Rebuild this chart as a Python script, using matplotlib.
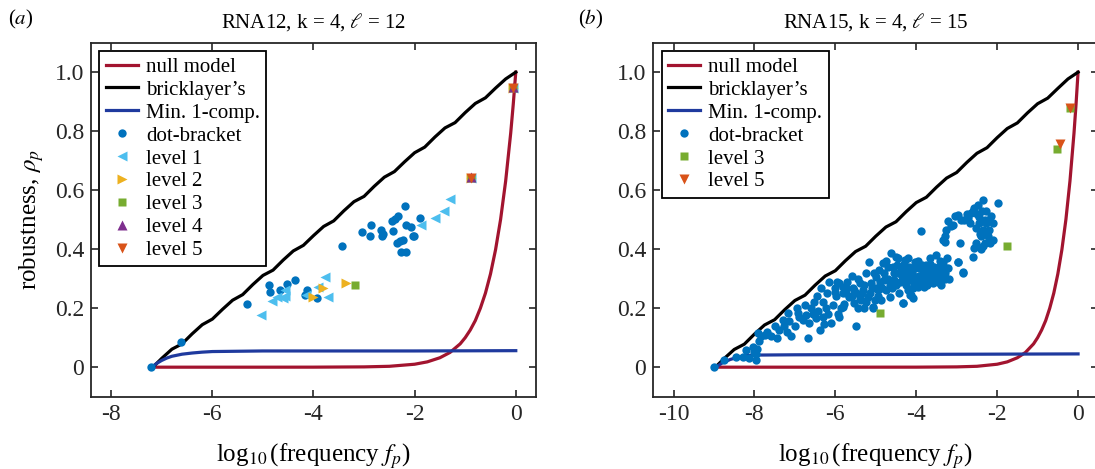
import matplotlib
matplotlib.use("Agg")
import matplotlib.pyplot as plt

plt.rcParams['font.family'] = ['Liberation Serif', 'DejaVu Serif']
plt.rcParams['mathtext.fontset'] = 'stix'

# colours (MATLAB style)
RED = '#A2142F'
BLK = '#000000'
DBLUE = '#1F3A9E'
C_DOT = '#0072BD'
C_L1 = '#4DBEEE'
C_L2 = '#EDB120'
C_L3 = '#77AC30'
C_L4 = '#7E2F8E'
C_L5 = '#D95319'
AXC = '#262626'

# ---------------- panel (a): RNA12 ----------------
a_null_x = [-7.2, -6.0, -5.0, -4.0, -3.0, -2.5, -2.0, -1.75, -1.5, -1.3, -1.1, -1.0,
            -0.9, -0.8, -0.7, -0.6, -0.5, -0.4, -0.3, -0.2, -0.1, -0.05, 0.0]
a_null_y = [0.0, 0.0, 0.0, 0.0001, 0.001, 0.003, 0.010, 0.018, 0.032, 0.050, 0.079, 0.100,
            0.126, 0.158, 0.200, 0.251, 0.316, 0.398, 0.501, 0.631, 0.794, 0.891, 1.0]

a_brick_x = [-7.2, -7.0, -6.8, -6.6, -6.4, -6.2, -6.0, -5.8, -5.6, -5.4, -5.2, -5.0, -4.8,
             -4.6, -4.4, -4.2, -4.0, -3.8, -3.6, -3.4, -3.2, -3.0, -2.8, -2.6, -2.4, -2.2,
             -2.0, -1.8, -1.6, -1.4, -1.2, -1.0, -0.8, -0.6, -0.4, -0.2, 0.0]
a_brick_y = [-0.004, 0.030, 0.061, 0.079, 0.113, 0.144, 0.163, 0.196, 0.227, 0.246, 0.280,
             0.311, 0.329, 0.363, 0.394, 0.413, 0.446, 0.477, 0.496, 0.530, 0.561, 0.579,
             0.613, 0.644, 0.663, 0.696, 0.727, 0.746, 0.780, 0.811, 0.829, 0.863, 0.894,
             0.913, 0.946, 0.977, 1.000]

a_min1_x = [-7.2, -7.1, -7.0, -6.9, -6.8, -6.6, -6.4, -6.2, -6.0, -5.5, -5.0, -4.0, -2.0, 0.0]
a_min1_y = [0.0, 0.013, 0.023, 0.031, 0.037, 0.044, 0.048, 0.051, 0.053, 0.054, 0.055, 0.055,
            0.055, 0.056]

a_dot_x = [-7.22, -6.63, -5.32, -4.885, -4.855, -4.667, -4.515, -4.37, -4.127, -4.17, -3.94,
           -3.446, -3.05, -2.885, -2.855, -2.667, -2.64, -2.62, -2.455, -2.39, -2.326, -2.42,
           -2.19, -2.17, -2.08, -2.357, -2.28, -2.23, -2.26, -2.164, -2.04, -2.01, -1.895]
a_dot_y = [0.0, 0.085, 0.215, 0.279, 0.254, 0.262, 0.282, 0.296, 0.262, 0.245, 0.234,
           0.412, 0.458, 0.445, 0.482, 0.465, 0.446, 0.453, 0.494, 0.502, 0.511, 0.463,
           0.547, 0.482, 0.476, 0.420, 0.428, 0.431, 0.390, 0.392, 0.443, 0.443, 0.505]

a_l1_x = [-5.03, -4.83, -4.73, -4.61, -4.568, -4.57, -4.145, -3.91, -3.776, -3.71,
          -1.875, -1.598, -1.42, -1.30, -0.89, -0.06]
a_l1_y = [0.177, 0.226, 0.237, 0.233, 0.262, 0.240, 0.244, 0.273, 0.307, 0.237,
          0.482, 0.505, 0.531, 0.571, 0.641, 0.946]
a_l2_x = [-4.01, -3.81, -3.35, -0.89, -0.06]
a_l2_y = [0.237, 0.267, 0.285, 0.641, 0.946]
a_l3_x = [-3.17, -0.89, -0.06]
a_l3_y = [0.277, 0.641, 0.946]
a_l4_x = [-0.89, -0.06]
a_l4_y = [0.645, 0.950]
a_l5_x = [-0.89, -0.06]
a_l5_y = [0.641, 0.946]

# ---------------- panel (b): RNA15 ----------------
b_null_x = [-9.0, -6.0, -4.0, -3.0, -2.5, -2.0, -1.75, -1.5, -1.3, -1.1, -1.0,
            -0.9, -0.8, -0.7, -0.6, -0.5, -0.4, -0.3, -0.2, -0.1, -0.05, 0.0]
b_null_y = [0.0, 0.0, 0.0001, 0.001, 0.003, 0.010, 0.018, 0.032, 0.050, 0.079, 0.100,
            0.126, 0.158, 0.200, 0.251, 0.316, 0.398, 0.501, 0.631, 0.794, 0.891, 1.0]

b_brick_x = [-9.0, -8.75, -8.5, -8.25, -8.0, -7.75, -7.5, -7.25, -7.0, -6.75, -6.5, -6.25,
             -6.0, -5.75, -5.5, -5.25, -5.0, -4.75, -4.5, -4.25, -4.0, -3.75, -3.5, -3.25,
             -3.0, -2.75, -2.5, -2.25, -2.0, -1.75, -1.5, -1.25, -1.0, -0.75, -0.5, -0.25, 0.0]
b_brick_y = [-0.005, 0.029, 0.060, 0.078, 0.112, 0.143, 0.161, 0.195, 0.226, 0.244, 0.278,
             0.309, 0.327, 0.361, 0.392, 0.410, 0.444, 0.475, 0.493, 0.527, 0.558, 0.576,
             0.610, 0.641, 0.660, 0.694, 0.725, 0.744, 0.778, 0.809, 0.828, 0.862, 0.893,
             0.912, 0.945, 0.977, 1.000]

b_min1_x = [-9.0, -8.9, -8.8, -8.6, -8.4, -8.2, -8.0, -7.0, -5.0, 0.0]
b_min1_y = [-0.005, 0.005, 0.014, 0.026, 0.034, 0.039, 0.041, 0.042, 0.043, 0.045]

b_dot_x = [-8.99, -8.74, -8.45, -8.29, -8.21, -8.13, -8.04, -8.00, -7.95, -7.97, -7.93, -7.90,
           -7.88, -7.84, -7.75, -7.59, -7.38, -7.26, -7.14, -7.09, -7.18, -6.93, -6.90, -6.72,
           -6.68, -6.65, -6.60, -6.52, -6.48, -6.44, -6.39, -6.35, -6.31, -6.27, -6.23, -6.19,
           -6.15, -6.11, -6.02, -5.98, -5.94, -5.90, -5.86, -5.82, -5.78, -5.74,
           -5.82, -5.73, -5.65, -5.57, -5.53, -5.49, -5.45, -5.40, -5.36, -5.32, -5.28, -5.24,
           -5.20, -5.16, -5.12, -5.08, -5.03, -4.99, -4.95, -4.91, -4.87, -4.83, -4.79, -4.75,
           -5.49, -5.82, -5.90, -5.07, -4.65, -4.32, -4.16, -4.08, -3.96,
           -4.62, -4.58, -4.54, -4.50, -4.46, -4.42, -4.37, -4.33, -4.29, -4.25, -4.21, -4.17,
           -4.13, -4.09, -4.04, -4.00, -3.96, -3.92, -3.88, -3.84, -3.80, -3.76, -3.71, -3.67,
           -3.63, -3.59, -3.55, -3.51, -3.47, -3.43, -3.38, -3.26, -4.33, -4.13,
           -4.70, -4.60, -4.48, -4.40, -4.30, -4.20, -4.10, -4.02, -3.94, -3.86, -3.78, -3.70,
           -3.62, -3.56, -3.48, -3.40, -3.35, -3.30, -5.00, -5.15, -5.35, -5.60,
           -3.88, -3.34, -3.30, -3.26, -3.22, -3.09, -3.05, -2.97, -2.93, -2.97, -2.85, -2.81,
           -2.72, -2.64, -2.56, -2.48, -2.35, -2.60, -2.56, -2.52, -2.52, -2.44, -2.39, -2.35,
           -2.31, -2.27, -2.27, -2.23, -2.19, -2.15, -2.11, -2.11, -1.98, -3.22, -2.97, -2.85,
           -3.30, -2.45, -2.40,
           -7.70, -7.50, -7.45, -7.30, -7.20, -7.00, -6.95, -6.80, -6.75, -6.55, -6.45, -6.30,
           -6.20, -6.05, -6.00, -5.95,
           -5.70, -5.60, -5.55, -5.45, -5.40, -5.30, -5.25, -5.10, -5.05, -4.95, -4.90, -4.85,
           -4.80, -4.75, -4.70, -4.65,
           -4.55, -4.50, -4.45, -4.35, -4.30, -4.25, -4.20, -4.15, -4.05, -4.00, -3.95, -3.90,
           -3.85, -3.75, -3.73, -3.65, -3.60, -3.52, -3.45, -3.42, -3.36, -3.28, -3.24, -3.20,
           -2.90, -2.75, -2.68, -2.60, -2.50, -2.42, -2.38, -2.30, -2.25, -2.20, -2.17, -2.35,
           -3.15]
b_dot_y = [0.002, 0.025, 0.034, 0.036, 0.059, 0.030, 0.070, 0.050, 0.025, 0.045, 0.060, 0.115,
           0.090, 0.105, 0.110, 0.104, 0.126, 0.138, 0.155, 0.104, 0.183, 0.183, 0.170, 0.177,
           0.098, 0.150, 0.200, 0.222, 0.167, 0.190, 0.126, 0.268, 0.170, 0.148, 0.200, 0.180,
           0.290, 0.150, 0.256, 0.240, 0.180, 0.285, 0.200, 0.250, 0.215, 0.270,
           0.273, 0.251, 0.239, 0.268, 0.217, 0.251, 0.200, 0.285, 0.228, 0.262, 0.200, 0.318,
           0.239, 0.358, 0.285, 0.200, 0.228, 0.307, 0.262, 0.330, 0.228, 0.352, 0.296, 0.262,
           0.138, 0.205, 0.170, 0.205, 0.239, 0.216, 0.245, 0.267, 0.273,
           0.386, 0.341, 0.296, 0.375, 0.318, 0.251, 0.335, 0.296, 0.364, 0.318, 0.262, 0.341,
           0.296, 0.234, 0.358, 0.307, 0.290, 0.335, 0.296, 0.318, 0.273, 0.347, 0.307, 0.369,
           0.330, 0.285, 0.341, 0.381, 0.307, 0.341, 0.279, 0.335, 0.217, 0.245,
           0.300, 0.270, 0.345, 0.290, 0.330, 0.300, 0.320, 0.335, 0.310, 0.345, 0.320, 0.290,
           0.310, 0.300, 0.330, 0.310, 0.355, 0.300, 0.270, 0.250, 0.250, 0.240,
           0.460, 0.432, 0.443, 0.465, 0.494, 0.482, 0.511, 0.516, 0.420, 0.358, 0.324, 0.499,
           0.505, 0.522, 0.539, 0.550, 0.567, 0.375, 0.403, 0.420, 0.471, 0.488, 0.443, 0.465,
           0.420, 0.488, 0.528, 0.443, 0.465, 0.511, 0.488, 0.432, 0.556, 0.336, 0.358, 0.320,
           0.425, 0.510, 0.400,
           0.120, 0.140, 0.100, 0.160, 0.120, 0.140, 0.200, 0.160, 0.210, 0.180, 0.240, 0.220,
           0.250, 0.210, 0.270, 0.290,
           0.290, 0.310, 0.260, 0.300, 0.230, 0.280, 0.220, 0.270, 0.320, 0.240, 0.290, 0.270,
           0.320, 0.360, 0.340, 0.280,
           0.320, 0.280, 0.370, 0.310, 0.350, 0.280, 0.370, 0.320, 0.280, 0.340, 0.360, 0.280,
           0.300, 0.330, 0.280, 0.350, 0.300, 0.320, 0.290, 0.360, 0.330, 0.320, 0.370, 0.300,
           0.500, 0.520, 0.490, 0.530, 0.520, 0.450, 0.530, 0.500, 0.460, 0.500, 0.420, 0.410,
           0.480]

b_l3_x = [-4.884, -1.748, -0.52, -0.205]
b_l3_y = [0.185, 0.411, 0.739, 0.878]
b_l5_x = [-0.45, -0.19]
b_l5_y = [0.756, 0.878]

yticks = [0, 0.2, 0.4, 0.6, 0.8, 1.0]
ytick_labels = ['0', '0.2', '0.4', '0.6', '0.8', '1.0']


def style_axes(ax, xlim, xticks):
    ax.set_xlim(*xlim)
    ax.set_ylim(-0.1, 1.1)
    ax.set_xticks(xticks)
    ax.set_xticklabels([str(t) for t in xticks])
    ax.set_yticks(yticks)
    ax.set_yticklabels(ytick_labels)
    ax.tick_params(direction='in', top=True, right=True, length=5, width=1.2,
                   labelsize=17, colors=AXC, pad=5)
    for s in ax.spines.values():
        s.set_linewidth(1.3)
        s.set_color(AXC)
    ax.set_xlabel('log$_{10}\\,$(frequency $f_p$)', fontsize=18, labelpad=12)


fig = plt.figure(figsize=(10.95, 4.69), dpi=100)
ax1 = fig.add_axes([0.0831, 0.1542, 0.4064, 0.7548])
ax2 = fig.add_axes([0.5966, 0.1542, 0.4064, 0.7548])

lw = 2.3
ms_o = 6
ms_t = 7

# panel a
ax1.plot(a_null_x, a_null_y, color=RED, lw=lw, label='null model', zorder=2)
ax1.plot(a_brick_x, a_brick_y, color=BLK, lw=lw, label="bricklayer\u2019s", zorder=2)
ax1.plot(a_min1_x, a_min1_y, color=DBLUE, lw=lw, label='Min. 1-comp.', zorder=2)
ax1.plot(a_dot_x, a_dot_y, 'o', color=C_DOT, ms=ms_o, mec='none', label='dot-bracket', zorder=3)
ax1.plot(a_l1_x, a_l1_y, '<', color=C_L1, ms=ms_t, mec='none', label='level 1', zorder=3)
ax1.plot(a_l2_x, a_l2_y, '>', color=C_L2, ms=ms_t, mec='none', label='level 2', zorder=3)
ax1.plot(a_l3_x, a_l3_y, 's', color=C_L3, ms=ms_o, mec='none', label='level 3', zorder=3)
ax1.plot(a_l4_x, a_l4_y, '^', color=C_L4, ms=ms_t, mec='none', label='level 4', zorder=3)
ax1.plot(a_l5_x, a_l5_y, 'v', color=C_L5, ms=ms_t, mec='none', label='level 5', zorder=3)
style_axes(ax1, (-8.4, 0.4), [-8, -6, -4, -2, 0])
ax1.set_ylabel('robustness, $\\rho_p$', fontsize=18, labelpad=6)
ax1.set_title('RNA12, k = 4, $\\ell$ = 12', fontsize=15, pad=11)

# panel b
ax2.plot(b_null_x, b_null_y, color=RED, lw=lw, label='null model', zorder=2)
ax2.plot(b_brick_x, b_brick_y, color=BLK, lw=lw, label="bricklayer\u2019s", zorder=2)
ax2.plot(b_min1_x, b_min1_y, color=DBLUE, lw=lw, label='Min. 1-comp.', zorder=2)
ax2.plot(b_dot_x, b_dot_y, 'o', color=C_DOT, ms=ms_o, mec='none', label='dot-bracket', zorder=3)
ax2.plot(b_l3_x, b_l3_y, 's', color=C_L3, ms=ms_o, mec='none', label='level 3', zorder=3)
ax2.plot(b_l5_x, b_l5_y, 'v', color=C_L5, ms=ms_t, mec='none', label='level 5', zorder=3)
style_axes(ax2, (-10.5, 0.5), [-10, -8, -6, -4, -2, 0])
ax2.set_title('RNA15, k = 4, $\\ell$ = 15', fontsize=15, pad=11)

for ax in (ax1, ax2):
    leg = ax.legend(loc='upper left', fontsize=15, numpoints=1, handlelength=1.55,
                    handletextpad=0.4, labelspacing=0.16, borderaxespad=0.4,
                    borderpad=0.3, fancybox=False, framealpha=1, edgecolor=BLK)
    leg.get_frame().set_linewidth(1.3)

fig.text(8 / 1095, 1 - 19 / 469, '($a$)', fontsize=15, va='center', ha='left')
fig.text(578 / 1095, 1 - 19 / 469, '($b$)', fontsize=15, va='center', ha='left')

fig.savefig('out.png', dpi=100)
